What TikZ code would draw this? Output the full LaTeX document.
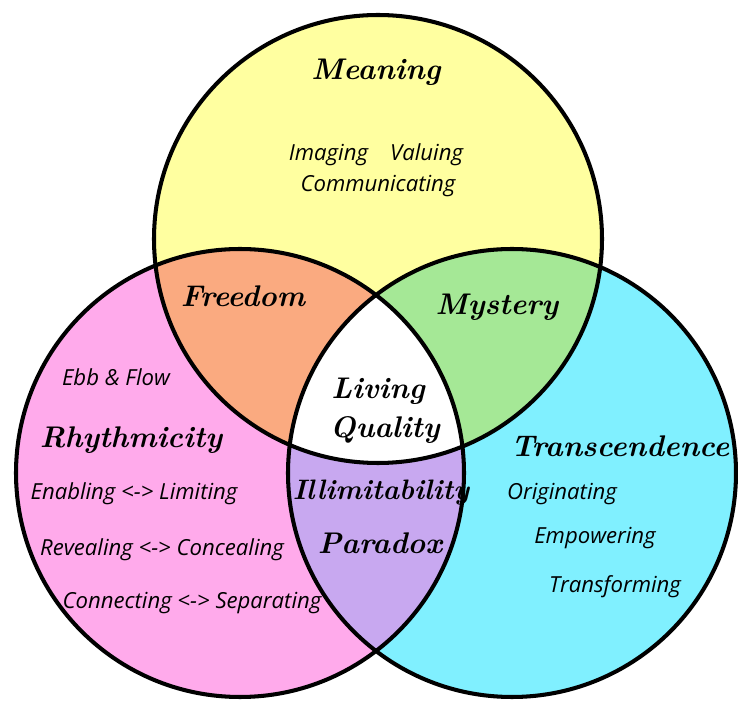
\documentclass[tikz,border=0pt]{standalone}
\usepackage{fontspec}
\newfontfamily\notefont{Open Sans}
\definecolor{meaningfill}{RGB}{255,255,160}
\definecolor{rhythmfill}{RGB}{255,170,235}
\definecolor{transfill}{RGB}{128,240,255}
\definecolor{freedomfill}{RGB}{250,170,128}
\definecolor{mysteryfill}{RGB}{165,232,150}
\definecolor{paradoxfill}{RGB}{200,168,240}

\begin{document}
\begin{tikzpicture}[
  x=0.02cm, y=-0.02cm,
  ring/.style={draw=black, line width=2.3pt},
  title/.style={font=\fontsize{17}{19}\selectfont\bfseries\itshape, inner sep=1pt},
  note/.style={font=\notefont\itshape\fontsize{12.6}{14}\selectfont, inner sep=1pt}
]
\useasboundingbox (0,0) rectangle (738,702);

\coordinate (mc) at (378,239);
\coordinate (rc) at (240,473);
\coordinate (tc) at (512,473);
\def\rad{224}

% circles
\fill[rhythmfill] (rc) circle[radius=\rad];
\fill[transfill] (tc) circle[radius=\rad];
\fill[meaningfill] (mc) circle[radius=\rad];

% pairwise overlaps
\begin{scope}
  \clip (mc) circle[radius=\rad];
  \fill[freedomfill] (rc) circle[radius=\rad];
  \fill[mysteryfill] (tc) circle[radius=\rad];
\end{scope}
\begin{scope}
  \clip (rc) circle[radius=\rad];
  \fill[paradoxfill] (tc) circle[radius=\rad];
\end{scope}
% centre
\begin{scope}
  \clip (mc) circle[radius=\rad];
  \clip (rc) circle[radius=\rad];
  \fill[white] (tc) circle[radius=\rad];
\end{scope}

\draw[ring] (mc) circle[radius=\rad];
\draw[ring] (rc) circle[radius=\rad];
\draw[ring] (tc) circle[radius=\rad];

% top circle
\node[title] (meaning) at (376,72) {Meaning};
\node[note] (imaging) at (376,155) {Imaging\quad Valuing};
\node[note] (communicating) at (378,186) {Communicating};

% overlaps
\node[title] (freedom) at (243,296) {Freedom};
\node[title] (mystery) at (497,307) {Mystery};
\node[title] (living) at (378,391) {Living};
\node[title] (quality) at (385,430) {Quality};
\node[title, font=\fontsize{16}{18}\selectfont\bfseries\itshape] (illimit) at (381,493) {Illimitability};
\node[title] (paradox) at (380,543) {Paradox};

% left circle
\node[note] (ebb) at (116,377) {Ebb \& Flow};
\node[title] (rhythm) at (131,440) {Rhythmicity};
\node[note] (enabling) at (134,494) {Enabling <-> Limiting};
\node[note] (revealing) at (162,550) {Revealing <-> Concealing};
\node[note] (connecting) at (192,603) {Connecting <-> Separating};

% right circle
\node[title] (trans) at (620,446) {Transcendence};
\node[note] (orig) at (562,494) {Originating};
\node[note] (empower) at (595,538) {Empowering};
\node[note] (transform) at (615,587) {Transforming};

\end{tikzpicture}
\end{document}
